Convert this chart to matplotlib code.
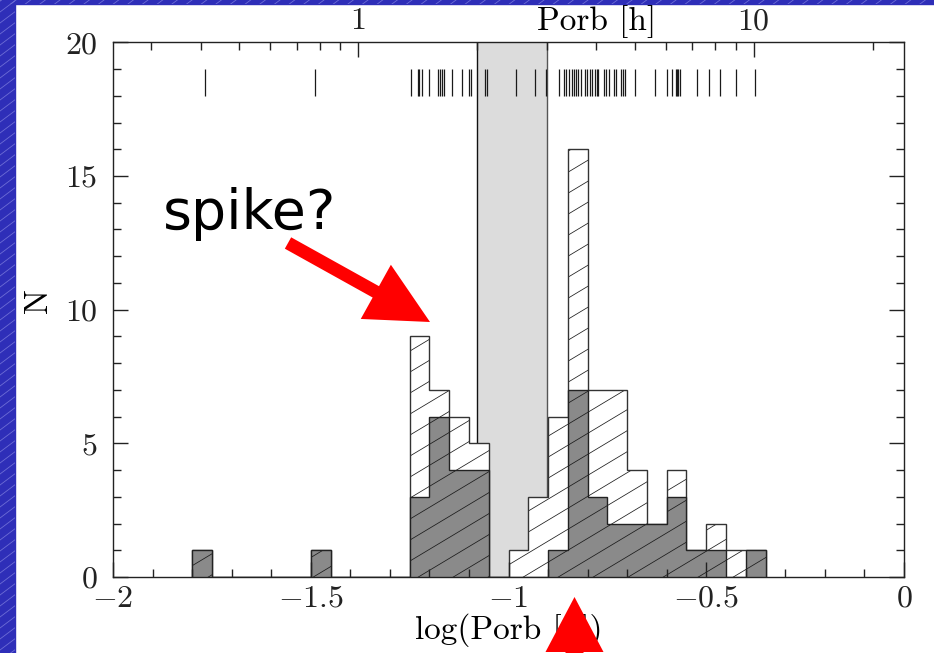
import numpy as np
import matplotlib
matplotlib.use("Agg")
import matplotlib.pyplot as plt
from matplotlib.patches import Rectangle, FancyArrow
from matplotlib.collections import LineCollection
from matplotlib.transforms import IdentityTransform
from matplotlib.ticker import (MultipleLocator, FixedLocator, FixedFormatter, LogLocator,
                               NullFormatter, FuncFormatter)

# ---------------- data ----------------
bin_first_edge = -1.80
bin_width = 0.05
# counts per 0.05-wide bin of log(Porb/d), starting at -1.80
counts_all = [1, 0, 0, 0, 0, 0, 1, 0, 0, 0, 0,
              9, 7, 6, 5,
              0, 1, 3, 6,
              16, 7, 7, 4, 2, 4, 1, 2, 1, 1]
counts_sub = [1, 0, 0, 0, 0, 0, 1, 0, 0, 0, 0,
              3, 6, 4, 4,
              0, 0, 0, 1,
              7, 3, 2, 2, 2, 3, 1, 1, 0, 1]
# rug of individual periods, log(Porb/d)
rug_logP = [-1.767, -1.4885,
            -1.2473, -1.2296, -1.2263, -1.2187, -1.2018, -1.179, -1.1732, -1.1681,
            -1.163, -1.1436, -1.1168, -1.1006, -1.0956, -1.0602, -1.0544,
            -0.9803, -0.9338, -0.9064,
            -0.8723, -0.8589, -0.8538, -0.8470, -0.8387, -0.8336, -0.8286, -0.8235,
            -0.8167, -0.8058, -0.8008, -0.7947, -0.7896, -0.7813, -0.7770, -0.7729,
            -0.7578, -0.7527, -0.7459, -0.7340, -0.7274, -0.7155, -0.7105, -0.7054,
            -0.6801, -0.6296, -0.6000, -0.5866, -0.5772, -0.5740, -0.5707, -0.5656,
            -0.5226, -0.4930, -0.4644, -0.4248, -0.3775]
gap_hours = [2.0, 3.0]
top_major_hours = [1, 10]
top_major_labels = ["1", "10"]

# ---------------- style ----------------
W, H, DPI = 934, 653, 100
plt.rcParams["font.family"] = ["cmr10", "DejaVu Serif"]
plt.rcParams["mathtext.fontset"] = "cm"
plt.rcParams["axes.formatter.use_mathtext"] = True
plt.rcParams["axes.unicode_minus"] = True

FS_TICK = 23
FS_LAB = 24
BLUE = "#2e2eb8"
INK = "#222222"

fig = plt.figure(figsize=(W / DPI, H / DPI), dpi=DPI)
fig.patch.set_facecolor("white")

# slide background strips (left and top)
left_strip = Rectangle((0, 0), 15 / W, 1, transform=fig.transFigure, color=BLUE, zorder=-10)
top_strip = Rectangle((0, 1 - 3.5 / H), 1, 3.5 / H, transform=fig.transFigure, color=BLUE, zorder=-10)
fig.add_artist(left_strip)
fig.add_artist(top_strip)
for strip in (left_strip, top_strip):
    segs = [[(-50, c - 50 * 0.75), (W + 50, c + (W + 50) * 0.75)] for c in np.arange(-800, H + 50, 11)]
    lc = LineCollection(segs, colors="#6d6dd6", linewidths=0.6, transform=IdentityTransform(), zorder=-9)
    fig.add_artist(lc)
    lc.set_clip_path(strip)

# ---------------- axes ----------------
ax = fig.add_axes([113 / W, 76 / H, 791 / W, (610.7 - 76) / H])
ax.set_xlim(-2, 0)
ax.set_ylim(0, 20)
ax.set_axisbelow(False)

edges = bin_first_edge + bin_width * np.arange(len(counts_all) + 1)

# period gap band
gap_lo, gap_hi = np.log10(np.array(gap_hours) / 24.0)
ax.axvspan(gap_lo, gap_hi, color="#dcdcdc", zorder=0.5, lw=0)
ax.axvline(gap_lo, color="#111111", lw=1.0, zorder=0.6)
ax.axvline(gap_hi, color="#555555", lw=1.0, zorder=0.6)

# histograms
p_all = ax.stairs(counts_all, edges, fill=True, facecolor="white", edgecolor="none", zorder=1.0)
p_sub = ax.stairs(counts_sub, edges, fill=True, facecolor="#8a8a8a", edgecolor="none", zorder=1.3)


def hatch_for(patch, z):
    slope = 0.6
    segs = [[(0, c), (W, c + slope * W)] for c in np.arange(-700, H + 50, 21)]
    lc = LineCollection(segs, colors="#1a1a1a", linewidths=0.55,
                        transform=IdentityTransform(), zorder=z)
    ax.add_collection(lc, autolim=False)
    lc.set_clip_path(patch)


hatch_for(p_all, 1.1)
hatch_for(p_sub, 1.4)
ax.stairs(counts_all, edges, fill=False, edgecolor="#333333", lw=1.0, zorder=1.2)
ax.stairs(counts_sub, edges, fill=False, edgecolor="#222222", lw=1.0, zorder=1.5)

# rug
ax.vlines(rug_logP, 18, 19, colors="#1a1a1a", lw=0.9, zorder=1.6)


def fmt(v, pos):
    s = "%g" % round(v, 4)
    if s == "-0":
        s = "0"
    return r"$\mathdefault{%s}$" % s


# ticks
ax.xaxis.set_major_locator(MultipleLocator(0.5))
ax.xaxis.set_minor_locator(MultipleLocator(0.1))
ax.xaxis.set_major_formatter(FuncFormatter(fmt))
ax.yaxis.set_major_locator(MultipleLocator(5))
ax.yaxis.set_minor_locator(MultipleLocator(1))
ax.yaxis.set_major_formatter(FuncFormatter(fmt))
ax.tick_params(which="both", direction="in", top=False, right=True, colors=INK,
               labelsize=FS_TICK, width=1.0)
ax.tick_params(which="major", length=11)
ax.tick_params(which="minor", length=5.5)
ax.tick_params(axis="x", which="major", pad=6)
ax.tick_params(axis="y", which="major", pad=11)
for s in ax.spines.values():
    s.set_color(INK)
    s.set_linewidth(1.0)

ax.set_xlabel("log(Porb [d])", fontsize=FS_LAB, labelpad=0)

# top axis: Porb in hours
ax2 = ax.twiny()
ax2.set_xscale("log")
ax2.set_xlim(24 * 10 ** -2.0, 24 * 10 ** 0.0)
ax2.xaxis.set_major_locator(FixedLocator(top_major_hours))
ax2.xaxis.set_major_formatter(FixedFormatter(top_major_labels))
ax2.xaxis.set_minor_locator(LogLocator(base=10, subs=np.arange(2, 10), numticks=20))
ax2.xaxis.set_minor_formatter(NullFormatter())
ax2.tick_params(which="both", direction="in", colors=INK, labelsize=FS_TICK, width=1.0)
ax2.tick_params(which="major", length=11, pad=5)
ax2.tick_params(which="minor", length=5.5)
for s in ax2.spines.values():
    s.set_visible(False)

fig.text(597 / W, 1 - 22 / H, "Porb [h]", fontsize=FS_LAB, ha="center", va="center")
fig.text(38 / W, 1 - 300 / H, "N", fontsize=FS_LAB, ha="center", va="center", rotation=90)

# ---------------- slide annotations ----------------
fig.text(163 / W, 1 - 229 / H, "spike?", fontsize=40, family=["DejaVu Sans"],
         ha="left", va="baseline", color="black")
tail = np.array([288.0, H - 243.0])
tip = np.array([430.0, H - 322.0])
d = tip - tail
fig.add_artist(FancyArrow(tail[0], tail[1], d[0], d[1], width=13, head_width=62,
                          head_length=62, length_includes_head=True, color="#ff0000",
                          lw=0, transform=IdentityTransform(), zorder=10))
tail2 = np.array([574.5, -12.0])
tip2 = np.array([574.5, H - 597.0])
d2 = tip2 - tail2
fig.add_artist(FancyArrow(tail2[0], tail2[1], d2[0], d2[1], width=18, head_width=58,
                          head_length=55, length_includes_head=True, color="#ff0000",
                          lw=0, transform=IdentityTransform(), zorder=10))

fig.savefig("out.png", dpi=DPI)
